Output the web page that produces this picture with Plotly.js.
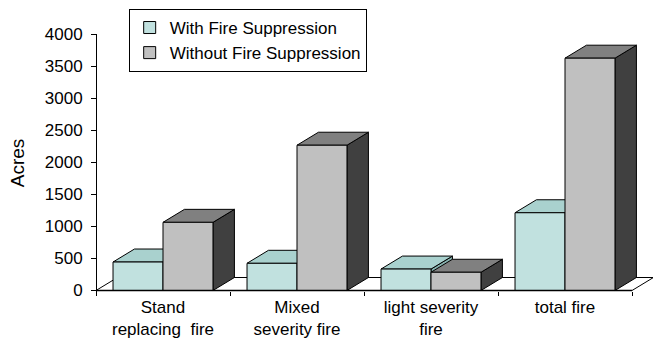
<!DOCTYPE html>
<html>
<head>
<meta charset="utf-8">
<script src="https://cdn.plot.ly/plotly-3.0.1.min.js"></script>
<style>
  html, body { margin: 0; padding: 0; background: #fff; }
  #chart { width: 653px; height: 339px; }
</style>
</head>
<body>
<div id="chart"></div>
<script>
// Burned area by fire type, with and without fire suppression (acres)
const categories = ['Stand<br>replacing\u00a0 fire', 'Mixed<br>severity fire', 'light severity<br>fire', 'total fire'];
const withSuppression = [445, 425, 335, 1215];
const withoutSuppression = [1065, 2270, 285, 3630];
const seriesNames = ['With Fire Suppression', 'Without Fire Suppression'];
const yTickVals = [0, 500, 1000, 1500, 2000, 2500, 3000, 3500, 4000];

// Look of the pseudo-3D columns
const FONT = 'Liberation Sans, Arial, sans-serif';
const BARGAP = 0.254;
const DEPTH_X = 0.16;   // category units
const DEPTH_Y = 203;    // value units
const HALF = (1 - BARGAP) / 2;
const palette = [
  { front: '#c1e1df', top: '#a9d1ce', side: '#86b0ad' },
  { front: '#c0c0c0', top: '#808080', side: '#404040' }
];

const seriesValues = [withSuppression, withoutSuppression];
const shapes = [];

// floor of the plot: back edge and the two sides
const n = categories.length;
const left = -0.5, right = n - 0.5;
const ln = { color: '#000', width: 1 };
shapes.push({ type: 'line', layer: 'below', xref: 'x', yref: 'y', x0: left + DEPTH_X, y0: DEPTH_Y, x1: right + DEPTH_X, y1: DEPTH_Y, line: ln });
shapes.push({ type: 'line', layer: 'below', xref: 'x', yref: 'y', x0: left, y0: 0, x1: left + DEPTH_X, y1: DEPTH_Y, line: ln });
shapes.push({ type: 'line', layer: 'below', xref: 'x', yref: 'y', x0: right, y0: 0, x1: right + DEPTH_X, y1: DEPTH_Y, line: ln });

function poly(pts) {
  return 'M' + pts.map(p => p[0] + ',' + p[1]).join('L') + 'Z';
}

// top and side faces for each column, drawn under the front faces
categories.forEach((c, i) => {
  seriesValues.forEach((vals, s) => {
    const v = vals[i];
    const x0 = i - HALF + s * HALF;
    const x1 = x0 + HALF;
    const col = palette[s];
    shapes.push({
      type: 'path', layer: 'below', xref: 'x', yref: 'y',
      path: poly([[x1, 0], [x1, v], [x1 + DEPTH_X, v + DEPTH_Y], [x1 + DEPTH_X, DEPTH_Y]]),
      fillcolor: col.side, line: { color: '#000', width: 1 }
    });
    shapes.push({
      type: 'path', layer: 'below', xref: 'x', yref: 'y',
      path: poly([[x0, v], [x1, v], [x1 + DEPTH_X, v + DEPTH_Y], [x0 + DEPTH_X, v + DEPTH_Y]]),
      fillcolor: col.top, line: { color: '#000', width: 1 }
    });
  });
});

// front edge of the floor
shapes.push({ type: 'line', layer: 'above', xref: 'x', yref: 'y', x0: left, y0: 0, x1: right, y1: 0, line: { color: '#000', width: 1.5 } });

const traces = seriesValues.map((vals, s) => ({
  type: 'bar',
  name: seriesNames[s],
  x: categories,
  y: vals,
  marker: { color: palette[s].front, line: { color: '#000', width: 1 } },
  hoverinfo: 'skip'
}));

const layout = {
  width: 653,
  height: 339,
  margin: { l: 88, r: 0, t: 34, b: 47, pad: 0 },
  paper_bgcolor: '#fff',
  plot_bgcolor: 'rgba(0,0,0,0)',
  font: { family: FONT, size: 17, color: '#000' },
  barmode: 'group',
  bargap: BARGAP,
  bargroupgap: 0,
  showlegend: true,
  legend: {
    x: 0.072, y: 1.097, xanchor: 'left', yanchor: 'top',
    bgcolor: '#fff', bordercolor: '#000', borderwidth: 1,
    font: { family: FONT, size: 17, color: '#000' },
    tracegroupgap: 0
  },
  xaxis: {
    type: 'category',
    range: [-0.5597, 3.6567],
    anchor: 'free', position: 0.0058,
    tickson: 'boundaries',
    ticks: 'outside', ticklen: 4, tickcolor: '#000', tickwidth: 1,
    ticklabelstandoff: 4,
    showline: false, showgrid: false, zeroline: false,
    tickfont: { family: FONT, size: 17, color: '#000' },
    fixedrange: true
  },
  yaxis: {
    range: [-23.4, 4007.8],
    anchor: 'free', position: 0.01416,
    tickmode: 'array', tickvals: yTickVals,
    ticks: 'outside', ticklen: 5, tickcolor: '#000', tickwidth: 1,
    ticklabelstandoff: 5,
    showline: true, linecolor: '#000', linewidth: 1,
    showgrid: false, zeroline: false,
    tickfont: { family: FONT, size: 17, color: '#000' },
    title: { text: 'Acres', font: { family: FONT, size: 19, color: '#000' }, standoff: 14 },
    fixedrange: true
  },
  shapes: shapes
};

Plotly.newPlot('chart', traces, layout, { displayModeBar: false, staticPlot: true });
</script>
</body>
</html>
